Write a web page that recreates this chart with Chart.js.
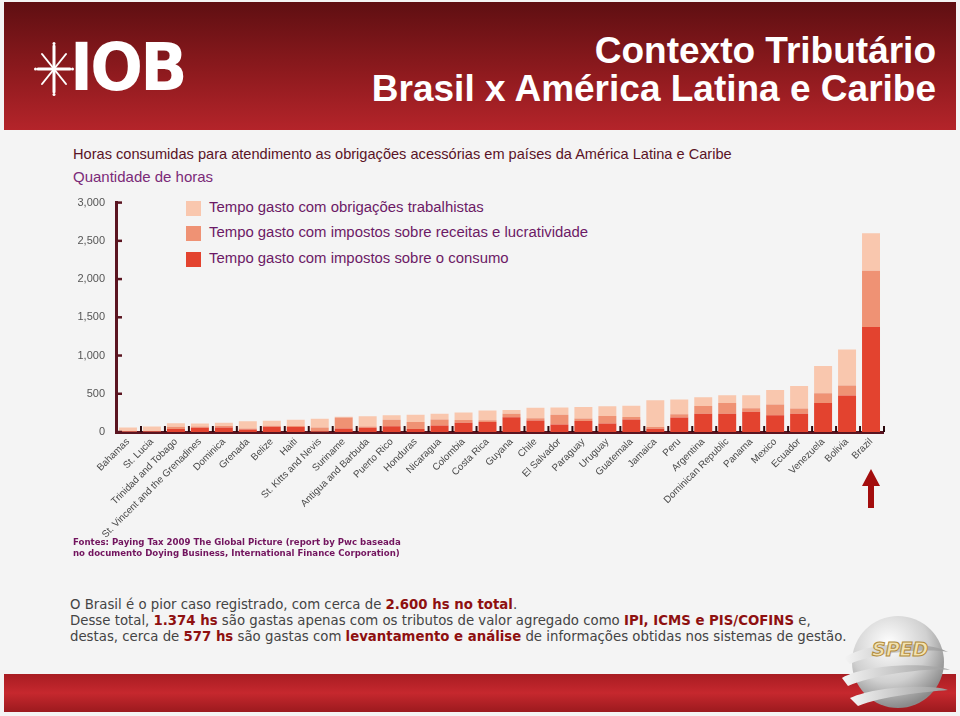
<!DOCTYPE html>
<html><head><meta charset="utf-8">
<script src="https://cdn.jsdelivr.net/npm/chart.js@4.4.1/dist/chart.umd.min.js"></script>
<style>
html,body{margin:0;padding:0;}
body{width:960px;height:716px;position:relative;overflow:hidden;background:#f4f4f4;font-family:"Liberation Sans",Arial,sans-serif;}
#hdr{position:absolute;left:4px;top:2px;width:952px;height:128px;background:linear-gradient(#5f0f12,#8e1a1e 55%,#b4242a);}
.ttl{position:absolute;right:24px;color:#fff;font-family:"Liberation Sans",Arial,sans-serif;font-weight:bold;font-size:37px;white-space:nowrap;}
#iob{position:absolute;left:70px;top:30px;color:#fff;font-family:"DejaVu Sans",sans-serif;font-weight:bold;font-size:66px;letter-spacing:-3px;line-height:76px;transform:scaleX(0.94);transform-origin:left;}
#ctitle{position:absolute;left:73px;top:146px;color:#5a1326;white-space:nowrap;font-size:14.6px;}
#qh{position:absolute;left:73px;top:168px;font-size:15px;color:#7b2a78;}
#legend{position:absolute;left:186px;top:201px;}
.li{position:relative;height:25px;}
.li span.sw{position:absolute;left:0;top:0;width:15px;height:15px;}
.li span.tx{position:absolute;left:23px;top:-2px;font-size:14.9px;color:#6c1a66;white-space:nowrap;}
#chart{position:absolute;left:20px;top:185px;}
#src{position:absolute;left:73px;top:537px;font-family:"DejaVu Sans",Verdana,sans-serif;font-weight:bold;font-size:8.6px;line-height:11px;color:#72145e;}
#txt{position:absolute;left:70px;top:597px;font-family:"DejaVu Sans",Verdana,sans-serif;font-size:13.3px;line-height:16px;color:#444;white-space:nowrap;}
#txt b{color:#8e1010;}
#foot{position:absolute;left:4px;top:674px;width:952px;height:38px;background:linear-gradient(#a81c22,#c6282e 50%,#9c1a1e);}
#arrow{position:absolute;left:860px;top:468px;}
#sped{position:absolute;left:836px;top:612px;}
</style></head>
<body>
<div id="hdr"></div>
<svg style="position:absolute;left:34px;top:42px" width="40" height="54" viewBox="0 0 40 54">
 <g stroke="#fff" stroke-width="3" stroke-linecap="round">
  <line x1="20" y1="4" x2="20" y2="50"/>
  <line x1="4" y1="27" x2="36" y2="27"/>
  <line x1="8" y1="12" x2="32" y2="42" stroke-width="2"/>
  <line x1="32" y1="12" x2="8" y2="42" stroke-width="2"/>
 </g>
 <g fill="#fff"><circle cx="20" cy="1.5" r="1.5"/><circle cx="1.5" cy="27" r="1.5"/><circle cx="38.5" cy="27" r="1.5"/><circle cx="20" cy="52.5" r="1.5"/></g>
</svg>
<div id="iob">IOB</div>
<div class="ttl" style="top:30px;">Contexto Tributário</div>
<div class="ttl" style="top:68px;">Brasil x América Latina e Caribe</div>

<div id="ctitle">Horas consumidas para atendimento as obrigações acessórias em países da América Latina e Caribe</div>
<div id="qh">Quantidade de horas</div>
<div id="legend"></div>
<canvas id="chart" width="890" height="400"></canvas>

<svg id="arrow" width="22" height="42" viewBox="0 0 22 42">
 <polygon points="11,1 20,18 14,18 14,40 8,40 8,18 2,18" fill="#a30d0d"/>
</svg>

<div id="src">Fontes: Paying Tax 2009 The Global Picture (report by Pwc baseada<br>no documento Doying Business, International Finance Corporation)</div>

<div id="txt">O Brasil é o pior caso registrado, com cerca de <b>2.600 hs no total</b>.<br>
Desse total, <b>1.374 hs</b> são gastas apenas com os tributos de valor agregado como <b>IPI, ICMS e PIS/COFINS</b> e,<br>
destas, cerca de <b>577 hs</b> são gastas com <b>levantamento e análise</b> de informações obtidas nos sistemas de gestão.</div>

<div id="foot"></div>
<svg id="sped" width="120" height="104" viewBox="0 0 120 104">
 <defs>
  <radialGradient id="g1" cx="40%" cy="30%" r="70%"><stop offset="0" stop-color="#ffffff"/><stop offset="0.6" stop-color="#d0d0d0"/><stop offset="1" stop-color="#8a8a8a"/></radialGradient>
  <linearGradient id="g2" x1="0" y1="0" x2="1" y2="0"><stop offset="0" stop-color="#f4f4f4"/><stop offset="1" stop-color="#9a9a9a"/></linearGradient>
 </defs>
 <circle cx="62" cy="50" r="46" fill="url(#g1)"/>
 <path d="M8,46 C30,30 90,28 112,40 C92,36 40,40 14,52 Z" fill="url(#g2)"/>
 <path d="M6,66 C30,52 92,50 114,58 C92,56 40,62 12,74 Z" fill="url(#g2)"/>
 <path d="M14,86 C40,74 96,72 112,78 C90,80 46,84 22,94 Z" fill="url(#g2)"/>
 <text x="36" y="44" font-family="DejaVu Sans" font-weight="bold" font-style="italic" font-size="19" fill="#f3e2b0" stroke="#b08a3a" stroke-width="1">SPED</text>
</svg>

<script>
const categories = ["Bahamas","St. Lucia","Trinidad and Tobago","St. Vincent and the Grenadines","Dominica","Grenada","Belize","Haiti","St. Kitts and Nevis","Suriname","Antigua and Barbuda","Puerto Rico","Honduras","Nicaragua","Colombia","Costa Rica","Guyana","Chile","El Salvador","Paraguay","Uruguay","Guatemala","Jamaica","Peru","Argentina","Dominican Republic","Panama","Mexico","Ecuador","Venezuela","Bolivia","Brazil"];
// hours: consumption taxes
const consumo = [8,5,40,56,60,34,68,64,8,45,56,75,40,85,120,132,192,150,98,145,111,162,43,190,240,240,265,220,240,378,477,1374];
// hours: profit taxes
const receitas = [0,6,30,16,17,13,13,13,50,144,17,85,92,78,36,22,47,29,126,30,98,34,21,42,100,140,47,140,66,130,130,736];
// hours: labour taxes
const trabalhistas = [50,60,44,39,43,93,66,83,114,10,134,58,92,77,100,128,49,137,96,153,127,148,350,192,113,100,170,189,294,356,473,490];
const yTicks = [0,500,1000,1500,2000,2500,3000];
const seriesNames = ["Tempo gasto com impostos sobre o consumo","Tempo gasto com impostos sobre receitas e  lucratividade","Tempo gasto com obrigações trabalhistas"];
const colors = ["#e3432f","#ef9274","#f9c7ae"];

const leg = document.getElementById('legend');
[2,1,0].forEach(i=>{
  const d=document.createElement('div');d.className='li';
  if(i===0) d.style.marginTop='1px';
  d.innerHTML='<span class="sw" style="background:'+colors[i]+'"></span><span class="tx">'+seriesNames[i]+'</span>';
  leg.appendChild(d);
});

const innerTicks = {
  id:'innerTicks',
  afterDraw(chart){
    const ctx=chart.ctx, a=chart.chartArea, ys=chart.scales.y, xs=chart.scales.x;
    ctx.save();
    ctx.strokeStyle='#5a1420';
    ctx.lineWidth=2.5;
    ys.ticks.forEach((t,i)=>{
      const y=ys.getPixelForTick(i);
      ctx.beginPath();ctx.moveTo(a.left,y);ctx.lineTo(a.left+6,y);ctx.stroke();
    });
    ctx.strokeStyle='#2a080c';
    ctx.lineWidth=2;
    for(let i=1;i<categories.length+1;i++){
      const x=xs.getPixelForValue(i-0.5)+1;
      ctx.beginPath();ctx.moveTo(x,a.bottom);ctx.lineTo(x,a.bottom-6);ctx.stroke();
    }
    ctx.restore();
  }
};

new Chart(document.getElementById('chart'),{
  type:'bar',
  data:{labels:categories,datasets:[
    {label:seriesNames[0],data:consumo,backgroundColor:colors[0]},
    {label:seriesNames[1],data:receitas,backgroundColor:colors[1]},
    {label:seriesNames[2],data:trabalhistas,backgroundColor:colors[2]}
  ]},
  options:{
    responsive:false,animation:false,devicePixelRatio:1,
    layout:{padding:{top:13,right:27,left:0,bottom:0}},
    plugins:{legend:{display:false},tooltip:{enabled:false}},
    datasets:{bar:{categoryPercentage:1,barPercentage:0.75,borderWidth:0}},
    scales:{
      x:{stacked:true,
        grid:{display:false,drawTicks:false},
        border:{display:true,color:'#5a1420',width:3},
        ticks:{autoSkip:false,maxRotation:45,minRotation:45,padding:4,color:'#4a4a4a',font:{family:'Liberation Sans, Arial',size:9.8}},
        afterFit(s){s.height=153;}
      },
      y:{stacked:true,min:0,max:3000,
        afterBuildTicks(s){s.ticks=yTicks.map(v=>({value:v}));},
        grid:{display:false,drawTicks:false},
        border:{display:true,color:'#5a1420',width:3},
        ticks:{padding:11,color:'#555',font:{family:'Liberation Sans, Arial',size:11},callback:v=>v.toLocaleString('en-US')},
        afterFit(s){s.width=96;}
      }
    }
  },
  plugins:[innerTicks]
});
</script>
</body></html>
